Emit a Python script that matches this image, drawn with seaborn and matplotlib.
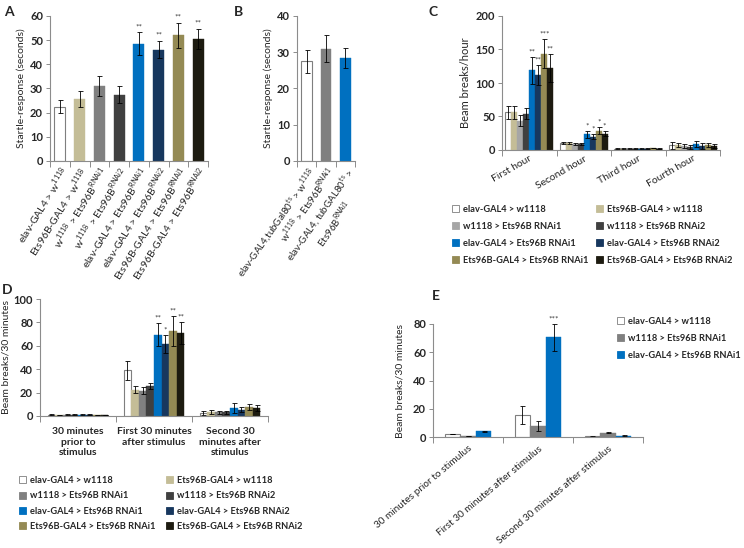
import numpy as np
import pandas as pd
import matplotlib
matplotlib.use('Agg')
import matplotlib.pyplot as plt
from matplotlib.patches import Patch
import seaborn as sns

# ---- data ----
a_labels = ['elav-GAL4 > w$^{\\mathregular{1118}}$',
            'Ets96B-GAL4 > w$^{\\mathregular{1118}}$',
            'w$^{\\mathregular{1118}}$ > Ets96B$^{\\mathregular{RNAi1}}$',
            'w$^{\\mathregular{1118}}$ > Ets96B$^{\\mathregular{RNAi2}}$',
            'elav-GAL4 > Ets96B$^{\\mathregular{RNAi1}}$',
            'elav-GAL4 > Ets96B$^{\\mathregular{RNAi2}}$',
            'Ets96B-GAL4 > Ets96B$^{\\mathregular{RNAi1}}$',
            'Ets96B-GAL4 > Ets96B$^{\\mathregular{RNAi2}}$']
a_means = [22.5, 25.5, 31.0, 27.5, 48.5, 46.0, 52.0, 50.5]
a_errs = [2.7, 3.3, 4.3, 3.5, 4.7, 3.5, 5.3, 4.3]
a_stars = ['', '', '', '', '**', '**', '**', '**']

b_labels = ['elav-GAL4,tubGal80$^{\\mathregular{ts}}$ > w$^{\\mathregular{1118}}$',
            'w$^{\\mathregular{1118}}$ > Ets96B$^{\\mathregular{RNAi1}}$',
            'elav-GAL4, tubGAL80$^{\\mathregular{ts}}$ >\nEts96B$^{\\mathregular{RNAi1}}$']
b_means = [27.5, 31.0, 28.5]
b_errs = [3.2, 3.8, 2.8]

series_names = ['elav-GAL4 > w1118', 'Ets96B-GAL4 > w1118',
                'w1118 > Ets96B RNAi1', 'w1118 > Ets96B RNAi2',
                'elav-GAL4 > Ets96B RNAi1', 'elav-GAL4 > Ets96B RNAi2',
                'Ets96B-GAL4 > Ets96B RNAi1', 'Ets96B-GAL4 > Ets96B RNAi2']
colors8 = ['#FFFFFF', '#C4BD97', '#808080', '#404040',
           '#0070C0', '#17375E', '#948A54', '#1D1B10']
colors8_c = ['#FFFFFF', '#C4BD97', '#A6A6A6', '#404040',
             '#0070C0', '#17375E', '#948A54', '#1D1B10']

c_groups = ['First hour', 'Second hour', 'Third hour', 'Fourth hour']
# rows = series, cols = groups
c_means = [[56, 10.5, 2, 7], [56, 10, 2, 7], [44, 9, 2, 6], [54, 9, 2, 5],
           [119, 23.5, 2, 9], [112, 20, 2, 6], [144, 29, 3, 7], [122, 24.5, 2, 6]]
c_errs = [[9, 1, 0.5, 5], [9, 1.5, 0.5, 3], [8, 2, 0.5, 3], [8, 2, 0.5, 3],
          [20, 5, 0.5, 5], [15, 4, 0.5, 4], [22, 5, 0.5, 3], [21, 4, 0.5, 3]]
c_stars = [['', '', '', ''], ['', '', '', ''], ['', '', '', ''], ['', '', '', ''],
           ['**', '*', '', ''], ['**', '*', '', ''], ['***', '*', '', ''], ['**', '*', '', '']]

d_groups = ['30 minutes\nprior to\nstimulus', 'First 30 minutes\nafter stimulus',
            'Second 30\nminutes after\nstimulus']
d_means = [[1, 39, 2.5], [0.8, 22.5, 3.5], [1, 21.5, 3], [1, 25.5, 3],
           [1.2, 69.5, 7], [1, 61.5, 5.5], [0.8, 72.5, 7.5], [0.8, 71, 7]]
d_errs = [[0.3, 8, 2], [0.2, 3, 1.5], [0.3, 3, 1.5], [0.3, 2.5, 1.5],
          [0.3, 10, 4.5], [0.3, 8, 2.5], [0.2, 13, 2.5], [0.2, 9.5, 2.5]]
d_stars = [['', '', ''], ['', '', ''], ['', '', ''], ['', '', ''],
           ['', '**', ''], ['', '*', ''], ['', '**', ''], ['', '**', '']]

e_groups = ['30 minutes prior to stimulus', 'First 30 minutes after stimulus',
            'Second 30 minutes after stimulus']
e_names = ['elav-GAL4 > w1118', 'w1118 > Ets96B RNAi1', 'elav-GAL4 > Ets96B RNAi1']
e_colors = ['#FFFFFF', '#808080', '#0070C0']
e_means = [[2, 15.5, 0.4], [0.5, 7.5, 3], [4, 70.5, 1]]
e_errs = [[0.2, 6.5, 0.1], [0.1, 3.5, 0.5], [0.3, 9.5, 0.3]]
e_stars = [['', '', ''], ['', '', ''], ['', '***', '']]

SPINE = '#8C8C8C'
EDGE = '#7F7F7F'

sns.set_style('white')
plt.rcParams['font.family'] = ['Lato', 'DejaVu Sans']
plt.rcParams['mathtext.fontset'] = 'custom'
plt.rcParams['mathtext.rm'] = 'Lato'

fig = plt.figure(figsize=(7.44, 5.48), dpi=100)
W, H = 744, 548


def px_axes(l, t, r, b):
    return fig.add_axes([l / W, 1 - b / H, (r - l) / W, (b - t) / H])


def style_axes(ax, n, ymax, ystep, ylabel, xrot=0, xbold=False, xsize=7, ysize=7.5):
    ax.set_xlim(-0.5, n - 0.5)
    ax.set_ylim(0, ymax)
    ax.set_yticks(np.arange(0, ymax + 0.1, ystep))
    sns.despine(ax=ax)
    for s in ['left', 'bottom']:
        ax.spines[s].set_color(SPINE)
        ax.spines[s].set_linewidth(0.8)
    ax.tick_params(axis='y', length=3, color=SPINE, width=0.7, labelsize=8, pad=2, left=True)
    plt.setp(ax.get_yticklabels(), fontweight='bold')
    ax.set_xticks(np.arange(n + 1) - 0.5, minor=True)
    ax.tick_params(axis='x', which='major', length=0, pad=3, labelsize=xsize)
    ax.tick_params(axis='x', which='minor', length=4, color=SPINE, width=0.7, bottom=True)
    ax.set_xlabel('')
    ax.set_ylabel(ylabel, fontsize=ysize, labelpad=3)
    if xbold:
        plt.setp(ax.get_xticklabels(), fontweight='bold')
    if xrot:
        plt.setp(ax.get_xticklabels(), rotation=xrot, ha='right', rotation_mode='anchor')


def add_errors(ax, means, errs, stars, off):
    bars = sorted(ax.patches, key=lambda p: p.get_x())
    for bar, m, e, st in zip(bars, means, errs, stars):
        x = bar.get_x() + bar.get_width() / 2
        ax.errorbar(x, m, yerr=e, fmt='none', ecolor='black', elinewidth=0.6,
                    capsize=1.8, capthick=0.6)
        if st:
            ax.text(x, m + e + off, st, ha='center', va='bottom', fontsize=6, color='#404040')
        fc = bar.get_facecolor()
        if fc[0] > 0.99 and fc[1] > 0.99 and fc[2] > 0.99:
            bar.set_edgecolor(EDGE)
            bar.set_linewidth(0.8)
        else:
            bar.set_edgecolor(fc)
            bar.set_linewidth(0.3)


def grouped(ax, groups, names, colors, means, width):
    rows = []
    for s, name in enumerate(names):
        for g, grp in enumerate(groups):
            rows.append({'group': grp, 'series': name, 'value': means[s][g]})
    df = pd.DataFrame(rows)
    sns.barplot(data=df, x='group', y='value', hue='series', order=groups,
                hue_order=names, palette=colors, width=width, errorbar=None,
                legend=False, saturation=1, ax=ax)


def flat(vals):
    # group-major, series-minor order to match bars sorted by x
    return [vals[s][g] for g in range(len(vals[0])) for s in range(len(vals))]


def legend_col(names, colors, x, y, spacing, size=6.7):
    handles = [Patch(facecolor=c, edgecolor=(EDGE if c == '#FFFFFF' else c), linewidth=0.6)
               for c in colors]
    leg = fig.legend(handles, names, loc='upper left', bbox_to_anchor=(x / W, 1 - y / H),
                     frameon=False, borderpad=0, borderaxespad=0, handlelength=0.8,
                     handleheight=0.8, handletextpad=0.4, labelspacing=spacing,
                     prop={'size': size, 'weight': 'bold'})
    return leg


# ---- A ----
axA = px_axes(50, 16, 208, 161)
sns.barplot(x=a_labels, y=a_means, hue=a_labels, palette=colors8, width=0.55,
            errorbar=None, legend=False, saturation=1, ax=axA)
add_errors(axA, a_means, a_errs, a_stars, 1.0)
style_axes(axA, 8, 60, 10, 'Startle-response (seconds)', xrot=58, xsize=7.5)

# ---- B ----
axB = px_axes(297, 16, 355, 161)
sns.barplot(x=b_labels, y=b_means, hue=b_labels, palette=['#FFFFFF', '#808080', '#0070C0'],
            width=0.55, errorbar=None, legend=False, saturation=1, ax=axB)
add_errors(axB, b_means, b_errs, ['', '', ''], 0.7)
style_axes(axB, 3, 40, 10, 'Startle-response (seconds)', xrot=55, xsize=7)
plt.setp(axB.get_xticklabels(), multialignment='center')

# ---- C ----
axC = px_axes(502, 16, 720, 150)
grouped(axC, c_groups, series_names, colors8_c, c_means, 0.88)
add_errors(axC, flat(c_means), flat(c_errs), flat(c_stars), 2)
style_axes(axC, 4, 200, 50, 'Beam breaks/hour', xrot=30, xsize=7.5, ysize=8)
legend_col(series_names[0::2], colors8_c[0::2], 452, 205, 0.85)
legend_col(series_names[1::2], colors8_c[1::2], 596, 205, 0.85)

# ---- D ----
axD = px_axes(40, 299, 268, 416)
grouped(axD, d_groups, series_names, colors8, d_means, 0.8)
add_errors(axD, flat(d_means), flat(d_errs), flat(d_stars), 1)
style_axes(axD, 3, 100, 20, 'Beam breaks/30 minutes', xbold=True, xsize=7.5, ysize=7.5)
axD.yaxis.labelpad = 2
axD.tick_params(axis='x', which='major', pad=8)
legend_col(series_names[0::2], colors8[0::2], 19, 476, 0.68)
legend_col(series_names[1::2], colors8[1::2], 166, 476, 0.68)

# ---- E ----
axE = px_axes(433, 324, 643, 437)
grouped(axE, e_groups, e_names, e_colors, e_means, 0.67)
add_errors(axE, flat(e_means), flat(e_errs), flat(e_stars), 1)
style_axes(axE, 3, 80, 20, 'Beam breaks/30 minutes', xrot=40, xsize=7.2, ysize=7.5)
axE.yaxis.labelpad = 6
axE.tick_params(axis='x', which='major', pad=5)
legend_col(e_names, e_colors, 617, 317, 0.85)

# panel letters
for lbl, x, y in [('A', 4, 12), ('B', 234, 12), ('C', 428, 12), ('D', 2, 290), ('E', 432, 296)]:
    fig.text(x / W, 1 - y / H, lbl, fontsize=10, fontweight='bold', va='center')

fig.savefig('out.png', dpi=100)
